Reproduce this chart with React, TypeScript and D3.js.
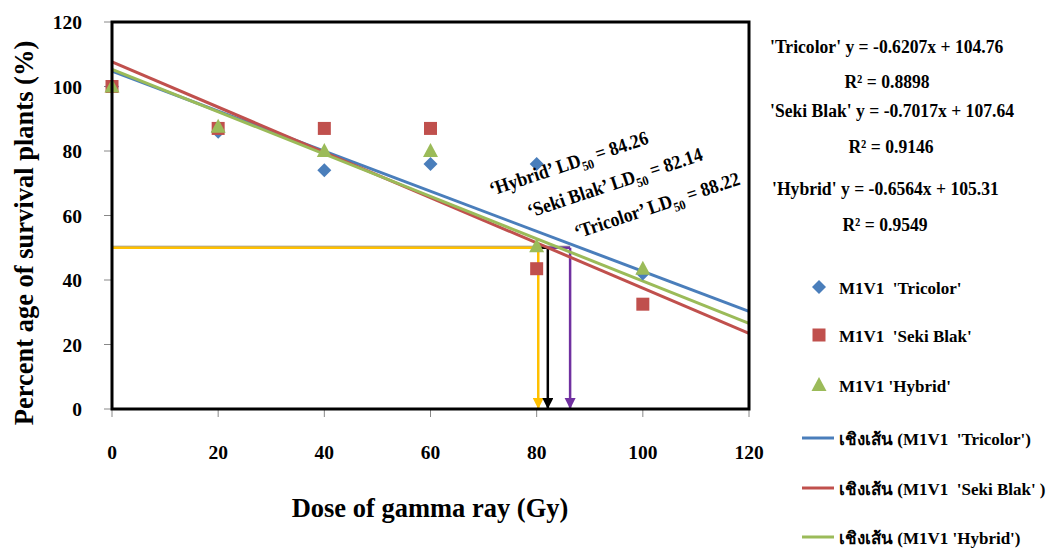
import React from "react";
import * as d3 from "d3";

const doses = [0, 20, 40, 60, 80, 100];
const tricolor = [100, 86, 74, 76, 76, 42];
const sekiBlak = [100, 87, 87, 87, 43.5, 32.5];
const hybrid = [100, 87.5, 80, 80, 50.5, 43.5];

const xTicks = [0, 20, 40, 60, 80, 100, 120];
const yTicks = [0, 20, 40, 60, 80, 100, 120];

const fits = [
  { name: "'Tricolor'", slope: -0.6207, intercept: 104.76, r2: "0.8898", color: "#4a7ebb" },
  { name: "'Seki Blak'", slope: -0.7017, intercept: 107.64, r2: "0.9146", color: "#c0504d" },
  { name: "'Hybrid'", slope: -0.6564, intercept: 105.31, r2: "0.9549", color: "#9bbb59" },
];

const ld50Labels = [
  { name: "‘Hybrid’", value: "84.26" },
  { name: "‘Seki Blak’", value: "82.14" },
  { name: "‘Tricolor’", value: "88.22" },
];

// arrow x positions (Gy) as drawn
const arrows = [
  { from: 0, x: 80.3, color: "#ffc000" },
  { from: 80.3, x: 82.1, color: "#000000" },
  { from: 82.1, x: 86.3, color: "#7030a0" },
];

const legendLabels = [
  "M1V1  'Tricolor'",
  "M1V1  'Seki Blak'",
  "M1V1 'Hybrid'",
  "เชิงเส้น (M1V1  'Tricolor')",
  "เชิงเส้น (M1V1  'Seki Blak' )",
  "เชิงเส้น (M1V1 'Hybrid')",
];

const FONT = "'Liberation Serif', 'Times New Roman', serif";

export default function App() {
  const W = 1051, H = 549;
  const x = d3.scaleLinear().domain([0, 120]).range([112, 749]);
  const y = d3.scaleLinear().domain([0, 120]).range([409, 22]);

  const diamond = (cx: number, cy: number, key: string) => (
    <path key={key} d={`M${cx},${cy - 7}L${cx + 7},${cy}L${cx},${cy + 7}L${cx - 7},${cy}Z`} fill="#4a7ebb" />
  );
  const square = (cx: number, cy: number, key: string) => (
    <rect key={key} x={cx - 6.5} y={cy - 6.5} width={13} height={13} fill="#c0504d" />
  );
  const triangle = (cx: number, cy: number, key: string) => (
    <path key={key} d={`M${cx},${cy - 8}L${cx + 7.5},${cy + 6}L${cx - 7.5},${cy + 6}Z`} fill="#9bbb59" />
  );

  const lineGen = d3.line<[number, number]>().x((d) => x(d[0])).y((d) => y(d[1]));

  return (
    <svg width={W} height={H} style={{ position: "absolute", left: 0, top: 0, background: "#fff" }} fontFamily={FONT}>
      <defs>
        {arrows.map((a, i) => (
          <marker key={i} id={`ah${i}`} viewBox="0 0 10 10" refX={10} refY={5} markerWidth={4.5} markerHeight={4.5} orient="auto" markerUnits="strokeWidth">
            <path d="M0,0L10,5L0,10Z" fill={a.color} />
          </marker>
        ))}
      </defs>

      {/* ticks */}
      {yTicks.map((t) => (
        <line key={"yt" + t} x1={104} x2={112} y1={y(t)} y2={y(t)} stroke="#888" strokeWidth={1} />
      ))}
      {xTicks.map((t) => (
        <line key={"xt" + t} x1={x(t)} x2={x(t)} y1={409} y2={417} stroke="#888" strokeWidth={1} />
      ))}

      {/* y=50 reference lines */}
      <line x1={x(0)} x2={x(86.3)} y1={y(50) - 1.5} y2={y(50) - 1.5} stroke="#808080" strokeWidth={1.2} />
      {arrows.map((a, i) => (
        <g key={"ar" + i}>
          <line x1={x(a.from)} x2={x(a.x)} y1={y(50)} y2={y(50)} stroke={a.color} strokeWidth={2.5} />
          <line x1={x(a.x)} x2={x(a.x)} y1={y(50)} y2={y(0)} stroke={a.color} strokeWidth={2.5} markerEnd={`url(#ah${i})`} />
        </g>
      ))}

      {/* trend lines */}
      {fits.map((f) => (
        <path key={f.name} d={lineGen([[0, f.intercept], [120, f.intercept + f.slope * 120]]) || ""} stroke={f.color} strokeWidth={3} fill="none" />
      ))}

      {/* markers */}
      {doses.map((d, i) => diamond(x(d), y(tricolor[i]), "tc" + i))}
      {doses.map((d, i) => square(x(d), y(sekiBlak[i]), "sb" + i))}
      {doses.map((d, i) => triangle(x(d), y(hybrid[i]), "hy" + i))}

      {/* frame */}
      <rect x={x(0)} y={y(120)} width={x(120) - x(0)} height={y(0) - y(120)} fill="none" stroke="#000" strokeWidth={3} />

      {/* tick labels */}
      {yTicks.map((t) => (
        <text key={"yl" + t} x={82} y={y(t) + 7} textAnchor="end" fontSize={19.5} fontWeight="bold">{t}</text>
      ))}
      {xTicks.map((t) => (
        <text key={"xl" + t} x={x(t)} y={459} textAnchor="middle" fontSize={19.5} fontWeight="bold">{t}</text>
      ))}

      {/* axis titles */}
      <text x={430} y={517} textAnchor="middle" fontSize={26.5} fontWeight="bold">Dose of gamma ray (Gy)</text>
      <text transform={`translate(33,233) rotate(-90)`} textAnchor="middle" fontSize={26.5} fontWeight="bold">Percent age of survival plants (%)</text>

      {/* LD50 annotations */}
      {ld50Labels.map((l, i) => {
        const pos = [[492, 196], [530, 218], [577, 239]][i];
        return (
          <text key={"ld" + i} transform={`translate(${pos[0]},${pos[1]}) rotate(-18.5) scale(1,1.1)`} fontSize={17.8} fontWeight="bold">
            {l.name} LD<tspan fontSize={12} dy={5}>50</tspan><tspan dy={-5}> = {l.value}</tspan>
          </text>
        );
      })}

      {/* equations */}
      {fits.map((f, i) => {
        const ys = [[53, 88], [117, 153], [195, 231]][i];
        const rx = [887, 891, 885][i];
        return (
          <g key={"eq" + i} fontSize={17.6} fontWeight="bold">
            <text transform={`translate(${i === 2 ? 772 : 770},${ys[0]}) scale(1,1.1)`}>{`${f.name} y = ${f.slope}x + ${f.intercept}`}</text>
            <text transform={`translate(${rx},${ys[1]}) scale(1,1.1)`} textAnchor="middle">R² = {f.r2}</text>
          </g>
        );
      })}

      {/* legend */}
      {legendLabels.map((lab, i) => {
        const ly = [287, 335, 385, 438, 488, 537][i];
        let sym: React.ReactNode = null;
        if (i === 0) sym = diamond(819, ly, "lg0");
        else if (i === 1) sym = square(819, ly, "lg1");
        else if (i === 2) sym = triangle(819, ly, "lg2");
        else sym = <line x1={802} x2={834} y1={ly} y2={ly} stroke={fits[i - 3].color} strokeWidth={3} />;
        return (
          <g key={"lg" + i}>
            {sym}
            <text x={839} y={ly + 7} fontSize={17} fontWeight="bold" style={{ whiteSpace: "pre" }}>{lab}</text>
          </g>
        );
      })}
    </svg>
  );
}
